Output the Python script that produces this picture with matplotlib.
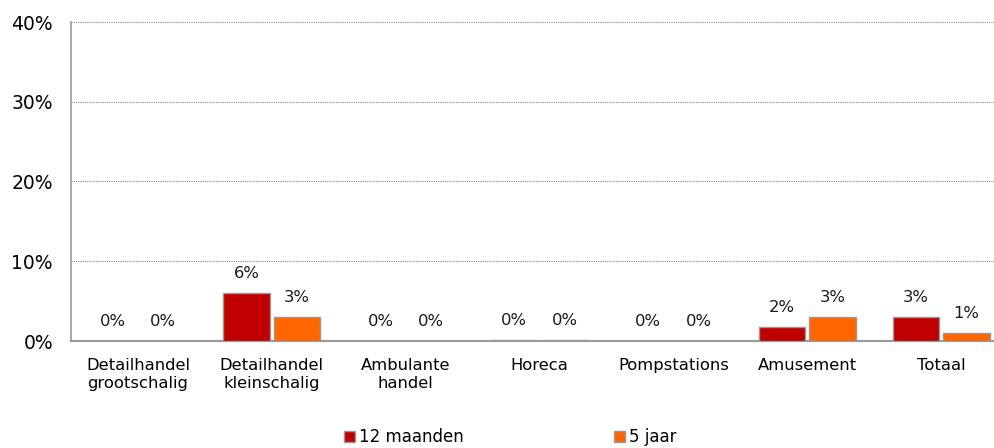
import matplotlib
matplotlib.use("Agg")
import matplotlib.pyplot as plt
import numpy as np
from matplotlib.patches import Patch

categories = ["Detailhandel\ngrootschalig", "Detailhandel\nkleinschalig", "Ambulante\nhandel",
              "Horeca", "Pompstations", "Amusement", "Totaal"]
maanden12 = [0.0, 6.0, 0.0, 0.1, 0.0, 1.75, 3.0]
jaar5 = [0.0, 3.0, 0.0, 0.1, 0.0, 3.0, 1.0]
labels12 = ["0%", "6%", "0%", "0%", "0%", "2%", "3%"]
labels5 = ["0%", "3%", "0%", "0%", "0%", "3%", "1%"]
series_names = ["12 maanden", "5 jaar"]
colors = ["#C00000", "#FF6600"]

plt.rcParams['font.family'] = ['DejaVu Sans']
fig = plt.figure(figsize=(9.95, 4.48), dpi=100)
ax = fig.add_axes([71/995, 1-341/448, 937/995, (341-22)/448])

x = np.arange(len(categories))
w = 0.347
gap = 0.015
b1 = ax.bar(x - w/2 - gap, maanden12, w, color=colors[0], edgecolor="#999999", linewidth=1, zorder=3)
b2 = ax.bar(x + w/2 + gap, jaar5, w, color=colors[1], edgecolor="#999999", linewidth=1, zorder=3)
for bars, labs in ((b1, labels12), (b2, labels5)):
    for r, l in zip(bars, labs):
        ax.text(r.get_x() + r.get_width()/2, r.get_height() + 2.5, l, ha="center", va="center",
                fontsize=11.8, color="#1a1a1a")

ax.set_xlim(-0.5, len(categories) - 0.5)
ax.set_ylim(0, 40)
ax.set_yticks([0, 10, 20, 30, 40])
ax.set_yticklabels(["0%", "10%", "20%", "30%", "40%"], fontsize=13.5)
ax.set_xticks(x)
ax.set_xticklabels(categories, fontsize=11.8, linespacing=1.3)
ax.tick_params(axis="y", length=0, pad=13)
ax.tick_params(axis="x", length=0, pad=12)
ax.yaxis.grid(True, linestyle=(0, (1, 1)), color="#888888", linewidth=0.8, zorder=0)
for s in ["top", "right"]:
    ax.spines[s].set_visible(False)
ax.spines["left"].set_color("#999999")
ax.spines["bottom"].set_color("#999999")
ax.spines["left"].set_linewidth(1.2)
ax.spines["bottom"].set_linewidth(1.5)

handles = [Patch(facecolor=c, edgecolor="#999999") for c in colors]
fig.legend(handles, series_names, loc="center", bbox_to_anchor=(0.513, 1-437/448), ncol=2,
           frameon=False, fontsize=12, handlelength=0.65, handleheight=0.65, handletextpad=0.25,
           columnspacing=9.0)

fig.savefig("out.png", dpi=100)
